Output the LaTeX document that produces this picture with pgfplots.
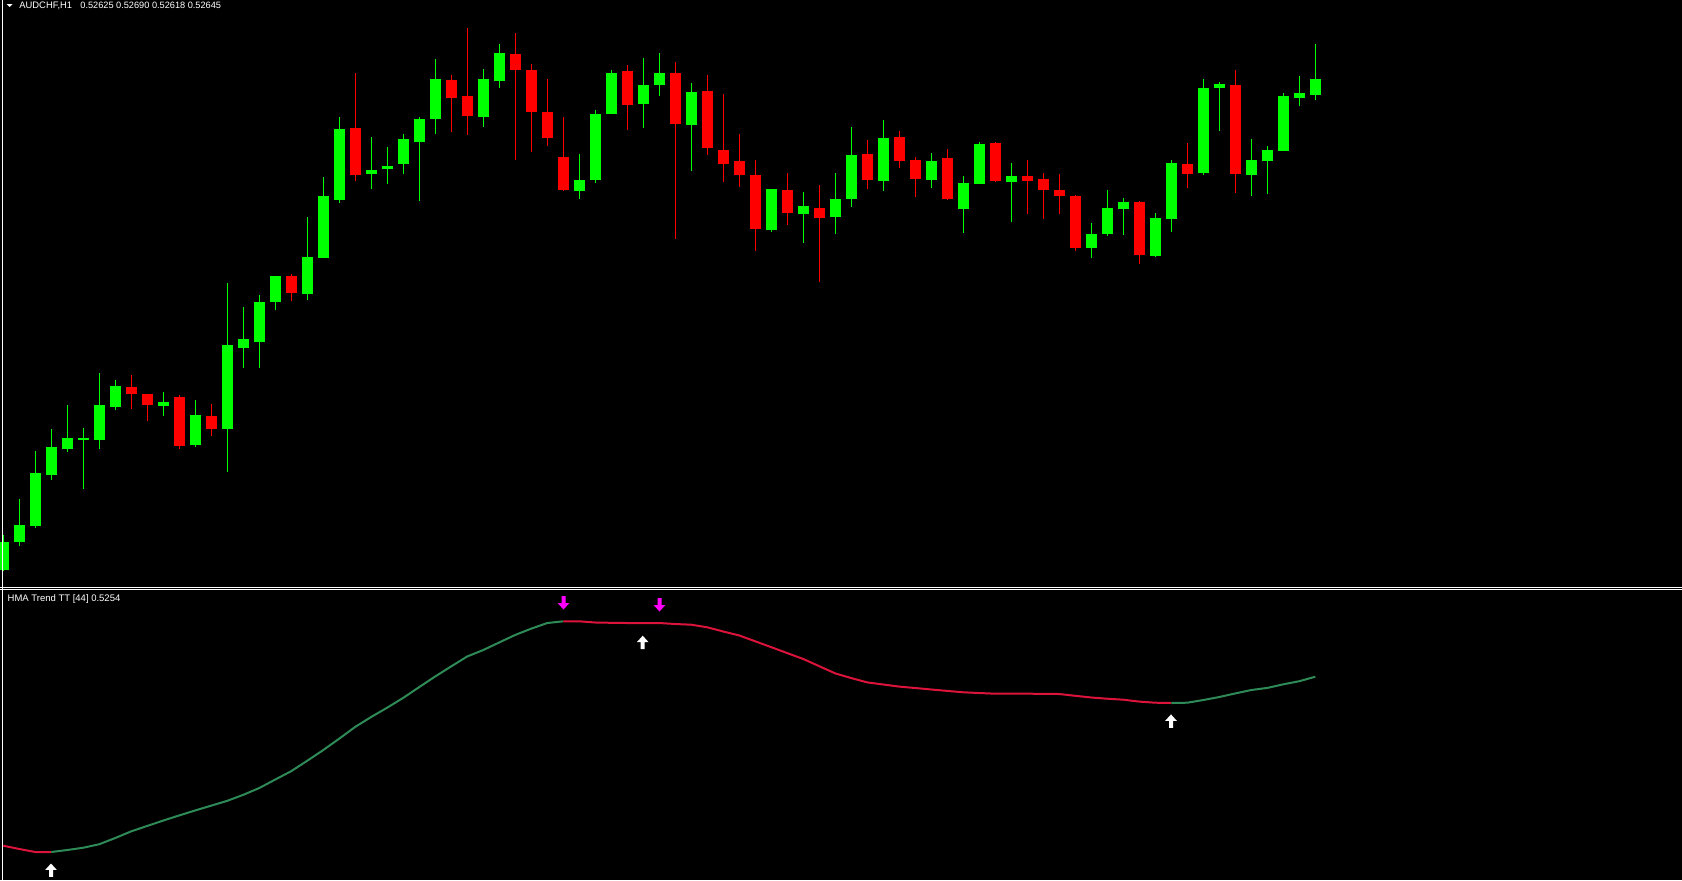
\documentclass[border=0pt]{standalone}
\usepackage{fontspec}
\setmainfont{Liberation Sans}
\usepackage{pgfplots}
\usepackage{pgfplotstable}
\pgfplotsset{compat=1.18}

\definecolor{bull}{RGB}{0,255,0}
\definecolor{bear}{RGB}{255,0,0}
\definecolor{hmaup}{RGB}{46,139,87}
\definecolor{hmadn}{RGB}{220,20,60}
\definecolor{sigdn}{RGB}{255,0,255}

% signal arrows (MT4 wingdings style)
\pgfdeclareplotmark{mtup}{%
  \pgfpathmoveto{\pgfqpoint{0pt}{3.4pt}}%
  \pgfpathlineto{\pgfqpoint{2.9pt}{0.2pt}}%
  \pgfpathlineto{\pgfqpoint{1.0pt}{0.2pt}}%
  \pgfpathlineto{\pgfqpoint{1.0pt}{-3.3pt}}%
  \pgfpathlineto{\pgfqpoint{-1.0pt}{-3.3pt}}%
  \pgfpathlineto{\pgfqpoint{-1.0pt}{0.2pt}}%
  \pgfpathlineto{\pgfqpoint{-2.9pt}{0.2pt}}%
  \pgfpathclose
  \pgfusepathqfill}
\pgfdeclareplotmark{mtdown}{%
  \pgfpathmoveto{\pgfqpoint{0pt}{-3.4pt}}%
  \pgfpathlineto{\pgfqpoint{2.9pt}{-0.2pt}}%
  \pgfpathlineto{\pgfqpoint{1.0pt}{-0.2pt}}%
  \pgfpathlineto{\pgfqpoint{1.0pt}{3.3pt}}%
  \pgfpathlineto{\pgfqpoint{-1.0pt}{3.3pt}}%
  \pgfpathlineto{\pgfqpoint{-1.0pt}{-0.2pt}}%
  \pgfpathlineto{\pgfqpoint{-2.9pt}{-0.2pt}}%
  \pgfpathclose
  \pgfusepathqfill}

% candles: bar index, open, high, low, close (chart rows, top = 0)
\pgfplotstableread{
i O H L C
0 569.7 534.6 570.5 542.0
1 542.0 499.1 545.7 525.0
2 525.7 451.0 528.3 473.2
3 474.7 429.2 479.8 446.9
4 448.8 405.1 451.7 438.0
5 439.9 428.0 488.7 437.6
6 439.9 372.9 448.8 405.1
7 406.6 380.0 409.5 386.2
10 405.8 392.2 416.2 402.1
12 444.7 399.9 446.5 415.1
14 428.8 283.0 471.7 345.2
15 347.8 307.1 367.7 338.9
16 341.8 295.2 367.7 301.9
17 301.5 276.0 309.7 276.0
19 293.7 217.2 299.7 257.1
20 257.5 177.2 257.5 196.1
21 199.8 116.9 202.7 129.1
23 173.5 136.9 188.7 170.2
24 168.7 146.9 183.5 166.1
25 163.5 133.9 173.5 139.1
26 142 117 201 119
27 118.7 59 134 79
30 117 69 127 79
31 81 44 88 53
36 191 154 199 180
37 180 110 183 114
38 114 70 114 73
40 104 58 128 85
41 85 53 96 73
43 125 83 171 92
48 230 189 232 189
50 214 192 243 206
52 217 173 234 199
53 199 127 207 155
55 181 120 191 138
58 180 153 188 161
60 209 176 233 183
61 184 142 184 144
63 182 163 222 176
68 248 223 258 234
69 234 190 236 208
70 209 198 235 202
72 256 213 257 218
73 219 160 232 163
75 172.7 79 174.7 88
76 87.7 82 130.7 84
78 174.7 139 195.7 160
79 160.7 146 193.7 150
80 150.7 93 150.7 96
81 97.7 76 105.7 93
82 94.7 44 99.7 79
}\bull

\pgfplotstableread{
i O H L C
8 387.0 375.1 408.8 393.6
9 394.0 394.0 420.6 404.7
11 397.0 395.1 448.8 445.8
13 416.2 404.0 435.8 428.8
18 276.0 274.1 300.8 292.6
22 128.0 72.9 180.5 174.6
28 80 75 132 98
29 96 28 135 116
32 54 33 160 70
33 70 64 152 112
34 112 79 146 138
35 157 117 191 190
39 71 65 130 105
42 73 62 239 124
44 91 75 155 148
45 150 94 182 164
46 161 134 187 175
47 175 160 251 229
49 190 173 225 213
51 208 185 282 218
54 154 140 189 180
56 137 131 168 161
57 160 157 197 179
59 158 149 200 199
62 143 142 182 181
64 176 160 214 181
65 179 173 219 190
66 190 174 214 196
67 196 195 251 248
71 202 201 264 255
74 164 143 188 174
77 85 70 192.7 173.7
}\bear

% HMA Trend line per bar (rows of the lower window)
\pgfplotstableread{
i v
0 845.7
1 849.0
2 852.0
3 852.0
4 850.0
5 847.7
6 844.2
7 838.0
8 831.3
9 825.9
10 820.5
11 815.4
12 810.4
13 805.6
14 800.8
15 794.8
16 788.0
17 779.5
18 771.1
19 760.7
20 750.0
21 738.6
22 726.8
23 716.9
24 707.6
25 697.8
26 687.0
27 676.4
28 666.3
29 656.4
30 650.0
31 642.4
32 634.9
33 628.6
34 623.0
35 621.3
36 621.3
37 622.5
38 622.8
39 623.0
40 623.0
41 623.0
42 624.0
43 624.7
44 627.3
45 631.5
46 635.5
47 641.3
48 647.2
49 653.1
50 659.0
51 666.2
52 673.4
53 678.1
54 682.4
55 684.5
56 686.6
57 688.0
58 689.5
59 690.9
60 692.3
61 693.0
62 693.7
63 693.7
64 693.7
65 693.8
66 694.0
67 695.8
68 697.5
69 698.7
70 699.7
71 701.6
72 702.7
73 703.0
74 702.7
75 700.0
76 697.0
77 693.4
78 690.0
79 687.9
80 684.3
81 681.2
82 676.7
}\hma

\begin{document}
\begin{tikzpicture}
\begin{axis}[
    width=841pt, height=440pt, scale only axis,
    xmin=0, xmax=1682, ymin=0, ymax=880, y dir=reverse,
    axis line style={draw=none}, ticks=none,
    axis background/.style={fill=black},
]
% wicks
\addplot[quiver={u=0, v=\thisrow{H}-\thisrow{L}}, draw=bull, line width=0.5pt]
    table[x expr=3.3+16*\thisrow{i}, y=L] {\bull};
\addplot[quiver={u=0, v=\thisrow{H}-\thisrow{L}}, draw=bear, line width=0.5pt]
    table[x expr=3.3+16*\thisrow{i}, y=L] {\bear};
% bodies
\addplot[quiver={u=0, v=\thisrow{C}-\thisrow{O}}, draw=bull, line width=5.5pt]
    table[x expr=3.3+16*\thisrow{i}, y=O] {\bull};
\addplot[quiver={u=0, v=\thisrow{C}-\thisrow{O}}, draw=bear, line width=5.5pt]
    table[x expr=3.3+16*\thisrow{i}, y=O] {\bear};

% HMA trend line, coloured by direction
\addplot[hmadn, line width=1pt, restrict expr to domain={\thisrow{i}}{0:3}]
    table[x expr=3.3+16*\thisrow{i}, y=v] {\hma};
\addplot[hmaup, line width=1pt, restrict expr to domain={\thisrow{i}}{3:35}]
    table[x expr=3.3+16*\thisrow{i}, y=v] {\hma};
\addplot[hmadn, line width=1pt, restrict expr to domain={\thisrow{i}}{35:73}]
    table[x expr=3.3+16*\thisrow{i}, y=v] {\hma};
\addplot[hmaup, line width=1pt, restrict expr to domain={\thisrow{i}}{73:82}]
    table[x expr=3.3+16*\thisrow{i}, y=v] {\hma};

% signals
\addplot[only marks, mark=mtup, color=white, fill=white]
    coordinates {(51.0,870.3) (642.7,642.5) (1171.0,721.2)};
\addplot[only marks, mark=mtdown, color=sigdn, fill=sigdn]
    coordinates {(563.5,602.7) (659.5,604.7)};

% window frame
\draw[white, line width=0.6pt] (axis cs:2.5,0) -- (axis cs:2.5,880);
\draw[white, line width=0.5pt] (axis cs:0,587.2) -- (axis cs:1682,587.2);
\draw[white, line width=0.5pt] (axis cs:0,589.2) -- (axis cs:1682,589.2);

\fill[white] (axis cs:6.7,4.0) -- (axis cs:12.5,4.0) -- (axis cs:9.6,7.0) -- cycle;
\node[anchor=base west, inner sep=0, text=white, font=\fontsize{4.7}{5}\selectfont]
    at (axis cs:19,8.3) {AUDCHF,H1};
\node[anchor=base west, inner sep=0, text=white, font=\fontsize{4.6}{5}\selectfont]
    at (axis cs:80,8.3) {0.52625 0.52690 0.52618 0.52645};
\node[anchor=base west, inner sep=0, text=white, font=\fontsize{4.75}{5}\selectfont]
    at (axis cs:7.3,601.7) {HMA Trend TT [44] 0.5254};
\end{axis}
\end{tikzpicture}
\end{document}
